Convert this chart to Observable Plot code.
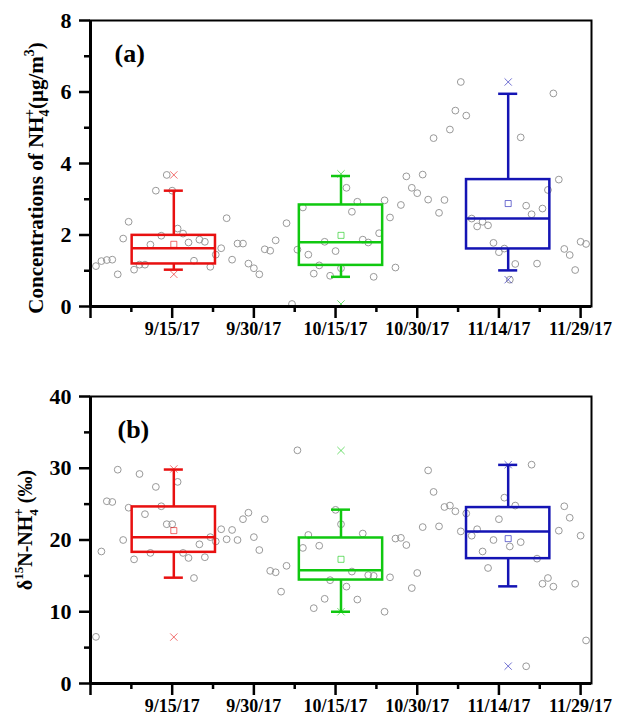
<!DOCTYPE html>
<html>
<head>
<meta charset="utf-8">
<script src="https://cdn.jsdelivr.net/npm/d3@7"></script>
<script src="https://cdn.jsdelivr.net/npm/@observablehq/plot@0.6"></script>
<style>
  body { margin: 0; background: white; }
  #chart { width: 617px; }
  #chart svg { display: block; }
</style>
</head>
<body>
<div id="chart"></div>
<script>
// ---------- data ----------
// sampling day (days after 2017-08-31)
const daysA = [1,2,3,4,5,6,7,8,9,10,11,12,13,14,15,16,17,18,19,20,21,22,23,24,25,26,27,28,29,30,31,32,33,34,36,37,38,39,40,41,42,43,44,45,46,47,48,49,50,51,52,53,54,55,56,57,58,59,60,61,62,63,64,65,66,67,68,69,70,71,72,73,74,75,76,77,78,79,80,81,82,83,84,85,86,87,88,89,90,91];
const nh4 = [1.13,1.27,1.30,1.31,0.90,1.90,2.37,1.03,1.17,1.17,1.73,3.24,1.98,3.68,3.24,2.18,2.04,1.79,1.28,1.87,1.81,1.11,1.45,1.63,2.47,1.31,1.76,1.76,1.20,1.07,0.90,1.60,1.56,1.85,2.33,0.07,1.59,2.77,1.45,0.92,1.15,1.81,0.86,1.55,1.07,3.32,2.65,2.93,1.87,1.79,0.83,2.05,2.97,2.49,1.09,2.84,3.64,3.32,3.17,3.69,2.99,4.71,2.62,2.98,4.95,5.48,6.28,5.34,2.46,2.24,2.37,2.27,1.78,1.52,1.62,0.75,1.19,4.73,2.82,2.58,1.20,2.74,3.26,5.96,3.55,1.61,1.44,1.02,1.81,1.75];

const daysB = [1,2,3,4,5,6,7,8,9,10,11,12,13,14,15,16,17,18,19,20,21,22,23,24,25,26,27,28,29,30,31,32,33,34,35,36,38,39,40,41,42,43,44,45,46,47,48,49,50,51,52,54,55,56,57,58,59,60,61,62,63,64,65,66,67,68,69,70,71,72,73,74,75,76,77,78,79,80,81,82,83,84,85,86,87,88,89,90,91];
const d15N = [6.5,18.4,25.4,25.3,29.8,20.0,24.5,17.3,29.2,23.6,18.2,27.4,24.7,22.2,22.2,28.1,18.2,17.5,14.7,19.4,17.6,20.4,19.8,21.5,20.1,21.4,20.0,22.9,23.8,20.4,18.6,22.9,15.7,15.5,12.8,16.4,32.5,18.9,20.7,10.5,19.2,11.8,14.4,24.2,22.2,13.5,15.6,11.7,20.9,15.1,15.0,10.0,14.8,20.2,20.3,19.3,13.3,15.4,21.8,29.7,26.7,21.9,24.6,24.8,24.0,21.2,23.7,20.6,21.5,18.4,16.1,20.0,22.9,25.9,19.1,24.8,19.7,2.4,30.5,17.4,13.9,14.7,13.5,21.3,24.7,23.1,13.9,20.6,6.0];

// box statistics (three months)
const boxCenters = [15.3, 46.0, 76.7];   // day after 2017-08-31
const boxColors = ["#e81010", "#10c810", "#1414b4"];

const q1A = [1.19, 1.15, 1.61];
const medA = [1.63, 1.80, 2.46];
const q3A = [1.99, 2.84, 3.55];
const loA = [1.03, 0.83, 1.01];
const hiA = [3.24, 3.65, 5.95];
const meanA = [1.74, 1.99, 2.88];
const minA = [0.90, 0.07, 0.75];
const maxA = [3.68, 3.71, 6.28];

const q1B = [18.28, 14.42, 17.40];
const medB = [20.37, 15.77, 21.17];
const q3B = [24.61, 20.28, 24.52];
const loB = [14.75, 10.0, 13.54];
const hiB = [29.82, 24.23, 30.47];
const meanB = [21.31, 17.31, 20.19];
const minB = [6.47, 10.0, 2.42];
const maxB = [29.9, 32.47, 30.5];

// axis ticks
const xMajorDays = [0, 15, 30, 45, 60, 75, 90];
const xMajorLabels = ["", "9/15/17", "9/30/17", "10/15/17", "10/30/17", "11/14/17", "11/29/17"];
const xMinorDays = [7.5, 22.5, 37.5, 52.5, 67.5, 82.5];
const yTicksA = [0, 2, 4, 6, 8];
const yMinorA = [1, 3, 5, 7];
const yTicksB = [0, 10, 20, 30, 40];
const yMinorB = [5, 15, 25, 35];

// ---------- helpers ----------
const t0 = Date.UTC(2017, 7, 31);
const toDate = d => new Date(t0 + d * 864e5);
const xDomain = [toDate(0), toDate(92)];
const boxHalf = 7.65;   // days
const capHalf = 1.75;   // days
const FONT = "'Liberation Serif', 'Times New Roman', serif";
const labelMap = new Map(xMajorDays.map((d, i) => [+toDate(d), xMajorLabels[i]]));

function makePanel(days, vals, st, yDomain, yTicks, yMinor, tag, margins) {
  const pts = days.map((d, i) => ({date: toDate(d), v: vals[i]}));
  const boxes = boxCenters.map((c, i) => ({
    c: toDate(c), x1: toDate(c - boxHalf), x2: toDate(c + boxHalf),
    cx1: toDate(c - capHalf), cx2: toDate(c + capHalf),
    q1: st.q1[i], med: st.med[i], q3: st.q3[i], lo: st.lo[i], hi: st.hi[i],
    mean: st.mean[i], min: st.min[i], max: st.max[i], color: boxColors[i]
  }));
  return Plot.plot({
    width: 617,
    height: margins.top + margins.inner + margins.bottom,
    marginLeft: 90, marginRight: 26,
    marginTop: margins.top, marginBottom: margins.bottom,
    style: {fontFamily: FONT, background: "white", color: "black", overflow: "visible"},
    x: {type: "utc", domain: xDomain},
    y: {domain: yDomain},
    marks: [
      Plot.axisY({ticks: yTicks, tickSize: 11, tickPadding: 8, fontSize: 22, fontWeight: "bold",
                  strokeWidth: 2.5, label: null}),
      Plot.axisY({ticks: yMinor, tickSize: 6, tickFormat: () => "", strokeWidth: 2.5, label: null}),
      Plot.axisX({ticks: xMajorDays.map(toDate), tickSize: 12, tickPadding: 4, fontSize: 18,
                  fontWeight: "bold", strokeWidth: 2.5, tickFormat: d => labelMap.get(+d), label: null}),
      Plot.axisX({ticks: xMinorDays.map(toDate), tickSize: 6, tickFormat: () => "", strokeWidth: 2.5, label: null}),
      Plot.dot(pts, {x: "date", y: "v", r: 3.4, stroke: "#999999", strokeWidth: 1, fill: "none"}),
      Plot.ruleX(boxes, {x: "c", y1: "q3", y2: "hi", stroke: "color", strokeWidth: 2.5}),
      Plot.ruleX(boxes, {x: "c", y1: "q1", y2: "lo", stroke: "color", strokeWidth: 2.5}),
      Plot.ruleY(boxes, {y: "hi", x1: "cx1", x2: "cx2", stroke: "color", strokeWidth: 2.5}),
      Plot.ruleY(boxes, {y: "lo", x1: "cx1", x2: "cx2", stroke: "color", strokeWidth: 2.5}),
      Plot.rect(boxes, {x1: "x1", x2: "x2", y1: "q1", y2: "q3", stroke: "color", fill: "none", strokeWidth: 2.5}),
      Plot.ruleY(boxes, {y: "med", x1: "x1", x2: "x2", stroke: "color", strokeWidth: 2.5}),
      Plot.dot(boxes, {x: "c", y: "mean", symbol: "square", r: 3.4, stroke: "color", strokeWidth: 1, strokeOpacity: 0.6, fill: "none"}),
      Plot.dot(boxes, {x: "c", y: "min", symbol: "times", r: 3.4, stroke: "color", strokeWidth: 1, strokeOpacity: 0.6}),
      Plot.dot(boxes, {x: "c", y: "max", symbol: "times", r: 3.4, stroke: "color", strokeWidth: 1, strokeOpacity: 0.6}),
      Plot.frame({stroke: "black", strokeWidth: 2}),
      Plot.ruleY([yDomain[0]], {stroke: "black", strokeWidth: 3}),
      Plot.ruleX([xDomain[0]], {stroke: "black", strokeWidth: 3}),
      Plot.text([tag], {frameAnchor: "top-left", dx: margins.tagDx, dy: margins.tagDy, lineAnchor: "top",
                        textAnchor: "start", fontSize: 26, fontWeight: "bold", fill: "black"})
    ]
  });
}

function addYLabel(svg, x, y, fs, parts) {
  const t = d3.select(svg).append("text")
    .attr("transform", `translate(${x},${y}) rotate(-90)`)
    .attr("text-anchor", "middle")
    .attr("font-family", FONT)
    .attr("font-weight", "bold")
    .attr("font-size", fs)
    .attr("fill", "black");
  parts.forEach(p => {
    t.append("tspan").text(p.t)
      .attr("dx", p.dx || 0).attr("dy", p.dy || 0)
      .attr("font-size", p.fs || fs);
  });
}

const svgA = makePanel(daysA, nh4,
  {q1: q1A, med: medA, q3: q3A, lo: loA, hi: hiA, mean: meanA, min: minA, max: maxA},
  [0, 8], yTicksA, yMinorA, "(a)",
  {top: 20, inner: 286, bottom: 54, tagDx: 24, tagDy: 23});
addYLabel(svgA, 43, 178, 21, [
  {t: "Concentrations of NH"},
  {t: "4", dy: 6, fs: 14},
  {t: "+", dx: -8, dy: -15, fs: 15},
  {t: "(\u03bcg/m", dy: 9},
  {t: "3", dy: -9, fs: 14},
  {t: ")", dy: 9}
]);

const svgB = makePanel(daysB, d15N,
  {q1: q1B, med: medB, q3: q3B, lo: loB, hi: hiB, mean: meanB, min: minB, max: maxB},
  [0, 40], yTicksB, yMinorB, "(b)",
  {top: 36, inner: 287, bottom: 36, tagDx: 27, tagDy: 23});
addYLabel(svgB, 32, 170, 20, [
  {t: "\u03b4"},
  {t: "15", dy: -9, fs: 13},
  {t: "N-NH", dy: 9},
  {t: "4", dy: 6, fs: 13},
  {t: "+", dx: -7, dy: -15, fs: 14},
  {t: " (\u2030)", dy: 9}
]);

document.getElementById("chart").append(svgA, svgB);
</script>
</body>
</html>
